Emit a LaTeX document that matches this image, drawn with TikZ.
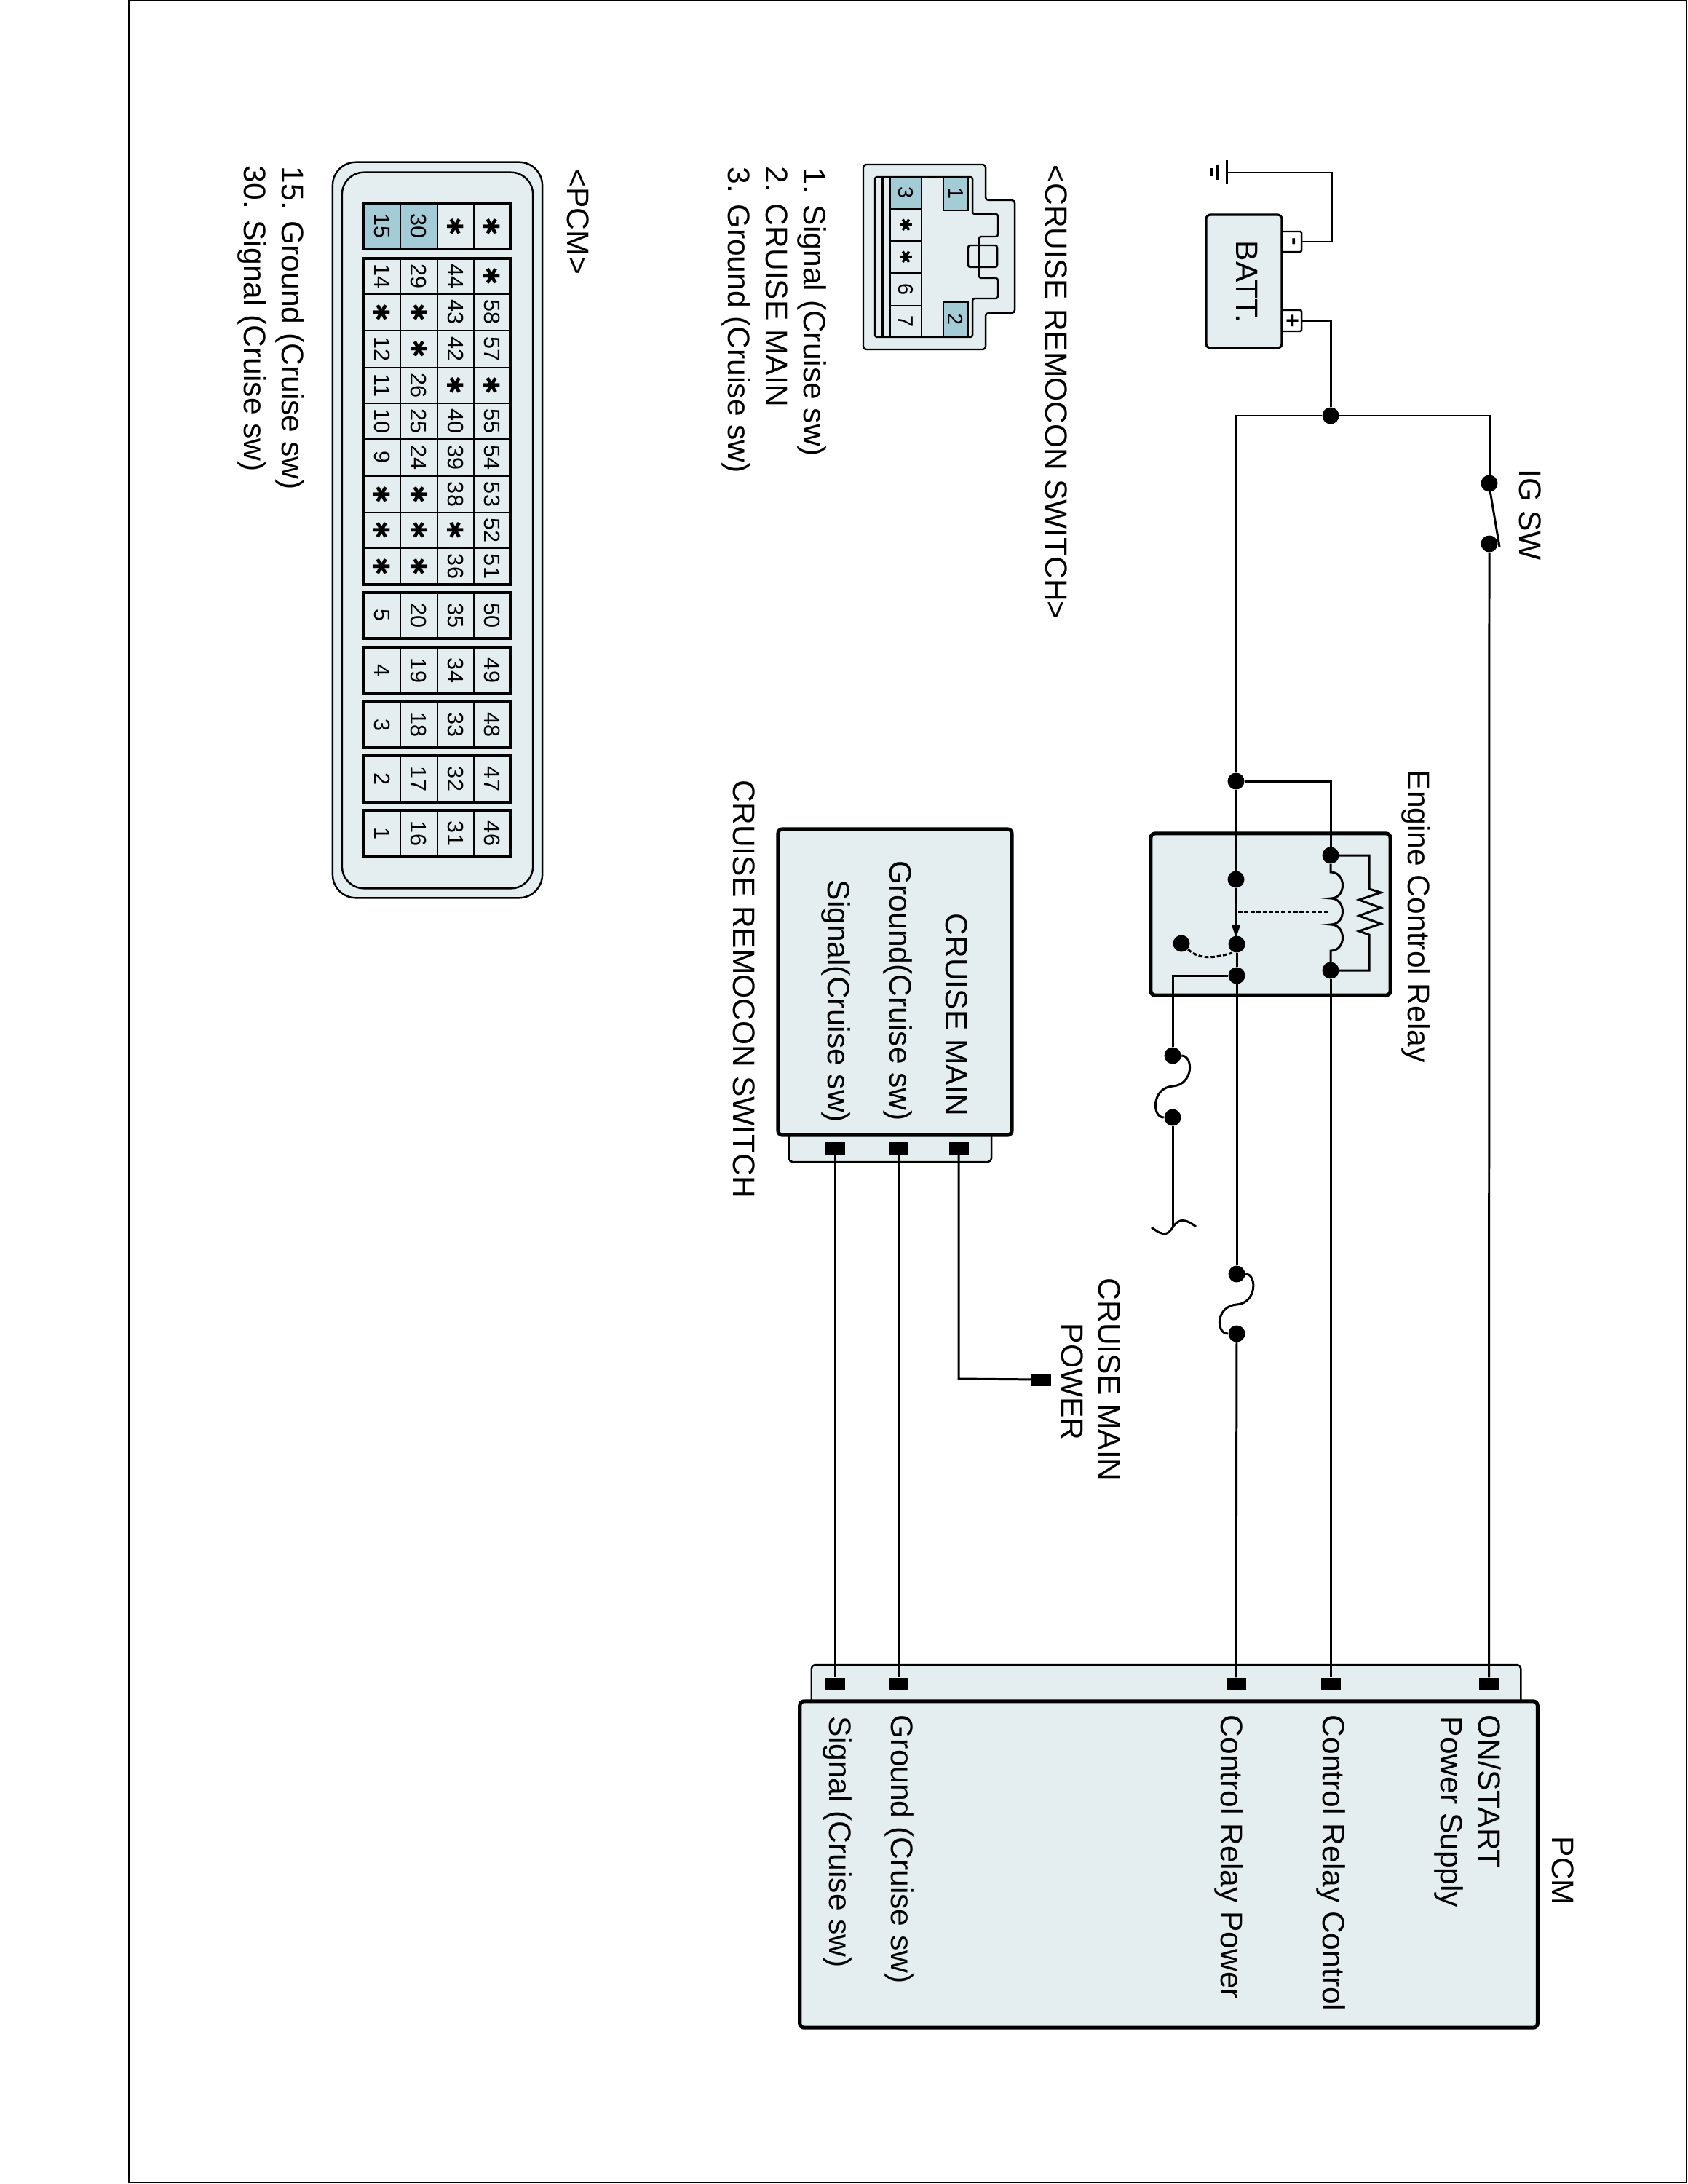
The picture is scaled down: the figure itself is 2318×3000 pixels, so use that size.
\documentclass[tikz,border=0pt]{standalone}
\usepackage{fontspec}
\setmainfont{Liberation Sans}
\newfontfamily\symfont{DejaVu Sans}
\usetikzlibrary{positioning, calc}
\definecolor{shell}{HTML}{E4EEF0}
\definecolor{pinhot}{HTML}{A4CCD7}
\newcommand{\vtxt}[1]{\rotatebox{-90}{#1}}
\newcommand{\pstar}{{\symfont ✱}}
\newcommand{\sstar}{{\fontsize{6.6}{8}\symfont ✱}}
\tikzset{
  lbl/.style={rotate=-90, anchor=base west, inner sep=0pt, font=\fontsize{12.1}{14}\selectfont},
  wire/.style={line width=.85pt, line join=miter},
  box/.style={draw, fill=shell, line width=1.45pt, rounded corners=.06cm, inner sep=0pt},
  conn/.style={draw, fill=shell, line width=.7pt, rounded corners=.05cm, inner sep=0pt},
  shellline/.style={draw, fill=shell, line width=.7pt},
  jdot/.style={circle, fill=black, inner sep=0pt, minimum size=.23cm},
  termpin/.style={fill=black, inner sep=0pt, minimum width=.27cm, minimum height=.17cm},
  pincell/.style={draw, fill=shell, line width=.7pt, inner sep=0pt, font=\fontsize{8.7}{10}\selectfont},
  swcell/.style={pincell, font=\fontsize{8.2}{10}\selectfont},
}
\begin{document}
\begin{tikzpicture}[x=.01cm, y=-.01cm]
  \useasboundingbox (0,0) rectangle (2318,3000);
  \node[draw, line width=.6pt, inner sep=0pt, minimum width=21.38cm, minimum height=29.96cm] (frame) at (1247,1499) {};

  % connector shells go under the boxes
  \node[conn, minimum width=2.78cm, minimum height=.56cm] (crconn) at (1223,1568) {};
  \node[conn, minimum width=9.74cm, minimum height=.66cm] (pcmconn) at (1602,2320) {};

  \node[box, minimum width=1.04cm, minimum height=1.83cm, line width=.9pt] (batt) at (1709,386.5) {};
  \node[conn, fill=white, rounded corners=.02cm, minimum width=.27cm, minimum height=.28cm, font=\fontsize{9}{10}\selectfont\bfseries] (batminus) at (1774.5,332) {\vtxt{-}};
  \node[conn, fill=white, rounded corners=.02cm, minimum width=.27cm, minimum height=.29cm, font=\fontsize{9}{10}\selectfont\bfseries] (batplus) at (1774.5,440.5) {\vtxt{+}};
  \node[box, minimum width=3.29cm, minimum height=2.22cm] (relay) at (1745.5,1256) {};
  \node[box, minimum width=3.21cm, minimum height=4.20cm] (cruise) at (1229.5,1349) {};
  \node[box, minimum width=10.13cm, minimum height=4.48cm] (pcm) at (1605.5,2561) {};

  \coordinate (gnd) at (1685,237);
  \coordinate (gndturn) at (1829,237);
  \coordinate (tl) at (1698,571);
  \coordinate (tr) at (2046,571);
  \coordinate (tapturn) at (1828,1073);
  \coordinate (brk) at (1611,1686);
  \coordinate (powturn) at (1317,1894);

  \node[jdot] (jbatt) at (1828,571) {};
  \node[jdot] (swa) at (2046,664) {};
  \node[jdot] (swb) at (2046,747) {};
  \node[jdot] (jtap) at (1698,1073) {};
  \node[jdot] (coila) at (1828,1175) {};
  \node[jdot] (coilb) at (1828,1333) {};
  \node[jdot] (contno) at (1698,1208) {};
  \node[jdot] (contmid) at (1699,1297) {};
  \node[jdot] (contcom) at (1699,1340) {};
  \node[jdot] (contnc) at (1623,1296) {};
  \node[jdot] (fusea) at (1611,1450) {};
  \node[jdot] (fuseb) at (1611,1535) {};
  \node[jdot] (fusec) at (1699,1750) {};
  \node[jdot] (fused) at (1699,1832) {};

  \node[termpin] (crsig) at (1147.5,1577.5) {};
  \node[termpin] (crgnd) at (1234,1577.5) {};
  \node[termpin] (crmain) at (1317,1577.5) {};
  \node[termpin] (powpin) at (1430,1895) {};
  \node[termpin] (pcmsig) at (1147.5,2313.5) {};
  \node[termpin] (pcmgnd) at (1234,2313.5) {};
  \node[termpin] (pcmpow) at (1698,2313.5) {};
  \node[termpin] (pcmctl) at (1828,2313.5) {};
  \node[termpin] (pcmign) at (2045.5,2313.5) {};

  % wiring
  \draw[wire] (gnd) -- (gndturn) |- (batminus.east);
  \draw[wire] (1685,220) -- (1685,253) (1672,227) -- (1672,247);
  \draw[line width=1.1pt] (1664,231) -- (1664,242);
  \draw[wire] (batplus.east) -| (jbatt);
  \draw[wire] (jbatt) -- (tl) -- (jtap) -- (contno) -- (1698,1275);
  \draw[wire] (jbatt) -- (tr) -- (swa);
  \draw[wire] (swb) -- (pcmign);
  \draw[wire] (2046,668) -- (2060,751);
  \draw[wire] (jtap) -- (tapturn) -- (coila);
  \draw[wire] (coilb) -- (pcmctl);
  \draw[wire] (coila) -- (1828,1198) .. controls (1850,1198) and (1850,1234) .. (1828,1234)
    .. controls (1850,1234) and (1850,1270) .. (1828,1270)
    .. controls (1850,1270) and (1850,1306) .. (1828,1306) -- (coilb);
  \draw[wire] (coila) -| (1881,1221) -- (1897,1226) -- (1867,1236) -- (1897,1247) -- (1867,1258) -- (1897,1269) -- (1867,1279) -- (1881,1284) |- (coilb);
  \draw[wire, dash pattern=on 1.6pt off .8pt] (1701,1252) -- (1828,1252);
  \fill (1692,1271) -- (1704,1271) -- (1698,1288) -- cycle;
  \draw[wire, dash pattern=on 1.6pt off .8pt] (contnc) .. controls (1650,1320) and (1670,1315) .. (1693,1309);
  \draw[wire] (contmid) -- (contcom) -- (fusec);
  \draw[wire] (contcom) -| (fusea);
  \draw[wire] (fusea) .. controls (1640,1450) and (1640,1490) .. (1611,1492) .. controls (1582,1494) and (1582,1535) .. (fuseb);
  \draw[wire] (fuseb) -- (brk);
  \draw[wire] (1582,1686) .. controls (1600,1700) and (1605,1695) .. (brk) .. controls (1620,1672) and (1630,1675) .. (1643,1685);
  \draw[wire] (fusec) .. controls (1727,1750) and (1727,1790) .. (1699,1792) .. controls (1670,1794) and (1670,1832) .. (fused);
  \draw[wire] (fused) -- (pcmpow);
  \draw[wire] (crsig) -- (pcmsig);
  \draw[wire] (crgnd) -- (pcmgnd);
  \draw[wire] (crmain) -- (powturn) -- (powpin);

  % cruise switch connector
  \draw[shellline, rounded corners=.04cm] (1186,226) -- (1354,226) -- (1354,275) -- (1394,275) -- (1394,430) -- (1354,430) -- (1354,480) -- (1186,480) -- cycle;
  \draw[shellline, rounded corners=.03cm] (1202,243) -- (1336,243) -- (1336,294) -- (1371,294) -- (1371,325) -- (1345,325) -- (1345,382) -- (1371,382) -- (1371,410) -- (1336,410) -- (1336,463) -- (1202,463) -- cycle;
  \draw[line width=.7pt, rounded corners=.03cm] (1330,337) rectangle (1370,367);
  \draw[line width=.95pt] (1212,243) -- (1212,463);
  \foreach \ya/\yb/\t [count=\r] in {287/331/\sstar, 331/375/\sstar, 375/420/6, 420/463/7}
    \node[swcell, minimum width=.43cm, minimum height={(\yb-\ya)*.01cm}] (sw\r) at (1244.5,{(\ya+\yb)/2}) {\vtxt{\t}};
  \node[swcell, fill=pinhot, minimum width=.43cm, minimum height=.44cm] (swthree) at (1244.5,265) {\vtxt{3}};
  \node[swcell, fill=pinhot, minimum width=.34cm, minimum height=.46cm] (swone) at (1313,266) {\vtxt{1}};
  \node[swcell, fill=pinhot, minimum width=.34cm, minimum height=.48cm] (swtwo) at (1313,439) {\vtxt{2}};

  % PCM connector
  \node[conn, rounded corners=.32cm, minimum width=2.88cm, minimum height=10.10cm] (pcmshell) at (601,728) {};
  \node[conn, rounded corners=.30cm, minimum width=2.62cm, minimum height=9.83cm] (pcminner) at (601,728.5) {};
  \foreach \ya/\yb/\pa/\pb/\pc/\pd [count=\r] in {
      355/404/14/29/44/\pstar, 404/454/\pstar/\pstar/43/58, 454/505/12/\pstar/42/57,
      505/554/11/26/\pstar/\pstar, 554/603/10/25/40/55, 603/654/9/24/39/54,
      654/704/\pstar/\pstar/38/53, 704/753/\pstar/\pstar/\pstar/52, 753/803/\pstar/\pstar/36/51,
      814/877/5/20/35/50, 889/953/4/19/34/49, 964/1027/3/18/33/48,
      1038/1102/2/17/32/47, 1113/1177/1/16/31/46}
    \foreach \xc/\t [count=\k] in {525/\pa, 575.5/\pb, 626/\pc, 676/\pd}
      \node[pincell, minimum width=.505cm, minimum height={(\yb-\ya)*.01cm}] (pcm-\r-\k) at (\xc,{(\ya+\yb)/2}) {\vtxt{\t}};
  \node[pincell, fill=pinhot, minimum width=.505cm, minimum height=.62cm] (pcmfifteen) at (525,311) {\vtxt{15}};
  \node[pincell, fill=pinhot, minimum width=.505cm, minimum height=.62cm] (pcmthirty) at (575.5,311) {\vtxt{30}};
  \node[pincell, minimum width=.505cm, minimum height=.62cm] (pcmstara) at (626,311) {\vtxt{\pstar}};
  \node[pincell, minimum width=.505cm, minimum height=.62cm] (pcmstarb) at (676,311) {\vtxt{\pstar}};
  \foreach \ya/\yb in {280/342, 355/803, 814/877, 889/953, 964/1027, 1038/1102, 1113/1177}
    \draw[line width=.9pt] (500,\ya) rectangle (701,\yb);

  % texts
  \node[lbl] (tbatt) at (1698,330) {BATT.};
  \node[lbl] (tig) at (2087,644) {IG SW};
  \node[lbl] (trelay) at (1934,1057) {Engine Control Relay};
  \node[lbl] (tmain) at (1299,1254) {CRUISE MAIN};
  \node[lbl] (tcrgnd) at (1222,1182) {Ground(Cruise sw)};
  \node[lbl] (tcrsig) at (1137,1208) {Signal(Cruise sw)};
  \node[lbl] (tcruise) at (1007,1071) {CRUISE REMOCON SWITCH};
  \node[lbl] (tpowa) at (1509,1755) {CRUISE MAIN};
  \node[lbl] (tpowb) at (1458,1817) {POWER};
  \node[lbl] (tpcm) at (2132,2522) {PCM};
  \node[lbl] (tign) at (2031,2355) {ON/START};
  \node[lbl] (tsupply) at (1979,2357) {Power Supply};
  \node[lbl] (tctl) at (1817,2355) {Control Relay Control};
  \node[lbl] (tpow) at (1677,2355) {Control Relay Power};
  \node[lbl] (tgnd) at (1224,2355) {Ground (Cruise sw)};
  \node[lbl] (tsig) at (1139,2357) {Signal (Cruise sw)};
  \node[lbl] (thswitch) at (1436,226) {<CRUISE REMOCON SWITCH>};
  \node[lbl] (tsone) at (1104,230) {1. Signal (Cruise sw)};
  \node[lbl] (tstwo) at (1052,228) {2. CRUISE MAIN};
  \node[lbl] (tsthree) at (1000,229) {3. Ground (Cruise sw)};
  \node[lbl] (thpcm) at (779,232) {<PCM>};
  \node[lbl] (tpone) at (387,228) {15. Ground (Cruise sw)};
  \node[lbl] (tptwo) at (335,227) {30. Signal (Cruise sw)};
\end{tikzpicture}
\end{document}
